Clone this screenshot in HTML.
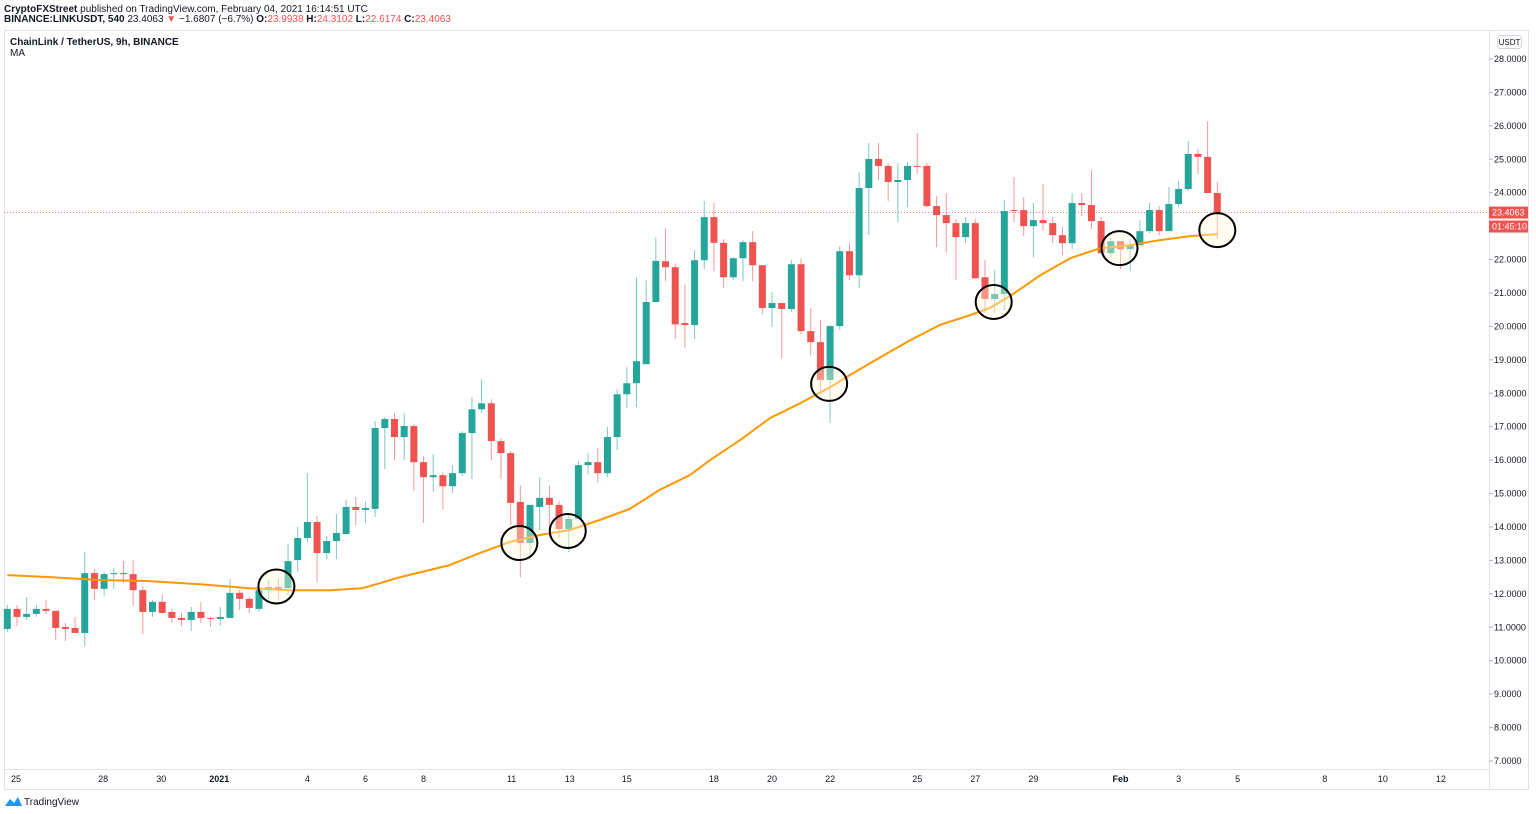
<!DOCTYPE html>
<html><head><meta charset="utf-8"><style>
body{margin:0;background:#fff;width:1536px;height:814px;overflow:hidden;font-family:"Liberation Sans",sans-serif}
svg{position:absolute;left:0;top:0}
</style></head><body>
<svg id="c" width="1536" height="814">
<text x="4" y="12" font-size="10" fill="#131722"><tspan font-weight="bold">CryptoFXStreet</tspan> published on TradingView.com, February 04, 2021 16:14:51 UTC</text>
<text x="4" y="22" font-size="10" fill="#131722" font-weight="bold">BINANCE:LINKUSDT, 540 <tspan font-weight="normal">23.4063</tspan> <tspan fill="#ef5350">▼</tspan> <tspan font-weight="normal">−1.6807 (−6.7%)</tspan> O:<tspan fill="#ef5350" font-weight="normal">23.9938</tspan> H:<tspan fill="#ef5350" font-weight="normal">24.3102</tspan> L:<tspan fill="#ef5350" font-weight="normal">22.6174</tspan> C:<tspan fill="#ef5350" font-weight="normal">23.4063</tspan></text>
<rect x="4.5" y="30.5" width="1524" height="759" fill="none" stroke="#e0e3eb"/>
<line x1="1489.5" y1="30" x2="1489.5" y2="789" stroke="#e0e3eb"/>
<line x1="4" y1="769.5" x2="1489" y2="769.5" stroke="#e0e3eb"/>
<text x="10" y="45" font-size="10" fill="#131722" font-weight="bold">ChainLink / TetherUS, 9h, BINANCE</text>
<text x="10" y="56" font-size="10" fill="#131722">MA</text>
<rect x="1497.5" y="35.5" width="24" height="13" rx="3" fill="#fff" stroke="#d1d4dc"/>
<text x="1509.5" y="45" font-size="8" fill="#131722" text-anchor="middle">USDT</text>
<g id="grid"></g><g id="candles"></g><g id="ma"></g><g id="circles"></g><g id="axes"></g>
<g>
<path d="M5 806 L10 799 L14 803 L18 797 L22 806 Z" fill="#2196f3"/>
<text x="24" y="805" font-size="10" fill="#131722">TradingView</text></g>
</svg>
<script>
const opens=[10.95,11.55,11.31,11.40,11.55,11.49,11.01,10.98,10.83,12.62,12.15,12.59,12.62,12.59,12.11,11.46,11.76,11.46,11.28,11.22,11.46,11.28,11.25,11.28,12.03,11.85,11.55,12.11,12.20,12.17,13.01,13.67,14.15,13.22,13.58,13.79,14.60,14.51,14.54,16.96,17.23,16.69,17.02,15.94,15.49,15.55,15.22,15.61,16.81,17.52,17.70,16.57,16.21,14.75,13.52,14.60,14.87,14.66,13.94,14.24,15.85,15.94,15.61,16.69,17.97,18.30,18.87,20.73,21.95,21.77,20.10,20.04,21.98,23.27,22.50,21.47,22.04,22.52,21.83,20.55,20.70,20.52,21.86,19.86,19.53,18.40,20.01,22.25,21.53,24.14,25.01,24.80,24.32,24.38,24.80,24.80,23.60,23.33,23.09,22.67,23.09,21.47,20.82,20.97,23.48,23.48,23.00,23.18,23.09,22.73,22.49,23.69,23.63,23.15,22.19,22.55,22.31,22.43,22.85,23.48,22.85,23.66,24.11,25.16,25.07,23.99];
const highs=[11.67,11.67,11.91,11.67,11.82,11.49,11.13,11.31,13.25,12.74,12.65,12.77,12.98,13.01,12.23,11.82,11.99,11.55,11.43,11.61,11.76,11.31,11.61,12.44,12.11,11.91,12.35,12.41,12.47,13.49,14.00,15.61,14.33,13.73,14.39,14.81,14.90,14.75,17.17,17.29,17.41,17.41,17.08,16.12,16.18,15.64,15.85,16.87,17.88,18.42,17.82,16.66,16.27,15.25,14.66,15.49,15.25,14.78,14.36,15.97,16.21,16.36,16.99,18.12,18.78,21.45,21.38,22.67,22.94,21.89,21.26,22.28,23.75,23.69,22.61,22.07,22.58,22.85,21.83,21.02,20.70,21.98,22.04,20.55,20.19,20.04,22.40,22.49,24.62,25.49,25.49,24.89,24.89,24.92,25.79,24.89,23.90,23.99,23.21,23.27,23.21,21.98,21.68,23.78,24.47,23.87,23.69,24.26,23.27,22.97,23.99,23.99,24.68,23.27,22.64,22.55,22.64,23.18,23.69,23.60,24.17,24.35,25.55,25.31,26.14,24.32];
const lows=[10.86,11.04,11.22,11.31,11.40,10.62,10.59,10.83,10.44,11.82,11.94,12.15,12.32,11.64,10.80,11.31,11.40,11.13,11.04,10.89,11.13,11.01,11.04,11.28,11.52,11.43,11.46,11.76,11.82,11.94,12.65,13.55,12.35,13.04,13.04,13.79,14.06,14.12,14.30,15.73,16.00,16.00,15.07,14.12,15.05,14.54,15.02,15.52,15.43,17.41,16.00,15.43,14.06,12.50,13.16,13.91,13.70,13.67,13.25,14.24,15.58,15.32,15.49,16.30,17.55,17.58,18.87,20.73,21.35,19.62,19.35,19.62,21.71,21.65,21.14,21.38,21.35,21.35,20.37,19.98,19.04,20.43,19.77,19.13,18.04,17.11,19.89,21.38,21.14,22.73,24.38,23.75,23.12,23.57,24.56,23.57,22.37,22.22,21.38,22.49,21.44,20.40,20.40,20.49,23.12,22.70,22.06,22.85,22.49,22.13,22.31,23.30,22.91,22.19,22.07,21.71,21.65,22.43,22.79,22.73,22.85,23.57,24.05,24.56,24.02,22.61];
const closes=[11.55,11.31,11.40,11.55,11.49,10.98,10.95,10.83,12.62,12.15,12.59,12.62,12.59,12.11,11.46,11.76,11.43,11.28,11.22,11.46,11.28,11.25,11.31,12.03,11.85,11.58,12.11,12.20,12.15,12.98,13.67,14.15,13.22,13.58,13.82,14.60,14.51,14.57,16.96,17.23,16.69,17.02,15.94,15.49,15.55,15.22,15.61,16.81,17.52,17.70,16.57,16.21,14.72,13.52,14.66,14.87,14.66,13.94,14.24,15.85,15.94,15.61,16.69,17.97,18.30,18.96,20.73,21.96,21.77,20.06,20.04,21.98,23.27,22.50,21.47,22.04,22.52,21.83,20.55,20.70,20.52,21.86,19.86,19.53,18.40,20.01,22.25,21.53,24.14,25.01,24.80,24.32,24.38,24.80,24.77,23.60,23.33,23.09,22.67,23.09,21.44,20.82,20.97,23.45,23.45,23.00,23.18,23.09,22.73,22.49,23.69,23.63,23.15,22.19,22.55,22.31,22.43,22.85,23.48,22.85,23.66,24.11,25.16,25.07,23.99,23.41];
const maIdx=[0,4.4,9.6,14.7,19.9,25,29.2,33.3,36.7,40.6,45.7,48.8,51.9,55,58.1,61.2,64.3,67.4,70.5,72.6,75.7,78.8,81.9,85,87,90.2,93.3,96.3,99.5,101.5,103.6,106.7,109.8,112.9,116,119,122.2,125];
const maVals=[12.56,12.50,12.41,12.38,12.29,12.17,12.11,12.11,12.17,12.50,12.86,13.22,13.55,13.76,13.91,14.21,14.54,15.11,15.55,16.00,16.60,17.26,17.70,18.18,18.54,19.08,19.59,20.04,20.34,20.55,20.91,21.53,22.04,22.34,22.43,22.58,22.70,22.76];
const priceTicks=[7,8,9,10,11,12,13,14,15,16,17,18,19,20,21,22,23,24,25,26,27,28];
const timeLabels=["25","28","30","2021","4","6","8","11","13","15","18","20","22","25","27","29","Feb","3","5","8","10","12"];
const timeIdx=[0.9,9.9,15.9,21.9,31,37,43,52.1,58.1,64,73,79,85,94,100,106,115,121,127.1,136.1,142.1,148.1];
const circleIdx=[27.8,52.9,57.9,84.9,101.9,114.9,125];
const circlePrice=[12.22,13.52,13.88,18.28,20.73,22.34,22.88];
const lastPrice=23.4063;

const NS="http://www.w3.org/2000/svg";
const x=i=>7.3+i*9.68;
const y=p=>761-(p-7)*33.43;
function mk(tag,attrs,parent){const e=document.createElementNS(NS,tag);for(const k in attrs)e.setAttribute(k,attrs[k]);document.getElementById(parent).appendChild(e);return e;}
priceTicks.forEach(p=>{
  const l=mk('line',{x1:1489,x2:1493,y1:y(p),y2:y(p),stroke:'#b2b5be'},'axes');
  
  
  const t=mk('text',{x:1494,y:y(p)+3,'font-size':9,fill:'#131722'},'axes');
  t.textContent=p.toFixed(4);
  
  
});
timeLabels.forEach((s,k)=>{
  const t=mk('text',{x:x(timeIdx[k]),y:782,'font-size':9,fill:'#131722','text-anchor':'middle','font-weight':s==='2021'||s==='Feb'?'bold':'normal'},'axes');
  t.textContent=s;
  
  
});
const pl=mk('line',{x1:4,x2:1489,y1:y(lastPrice),y2:y(lastPrice),stroke:'#ef5350','stroke-dasharray':'1,2','stroke-width':0.8},'grid');


opens.forEach((o,i)=>{
  const c=closes[i],up=c>=o,col=up?'#26a69a':'#ef5350',cx=x(i);
  const w=mk('line',{x1:cx,x2:cx,y1:y(highs[i]),y2:y(lows[i]),stroke:col,'stroke-opacity':0.6,'stroke-width':1},'candles');
  
  
  const top=y(Math.max(o,c)),bot=y(Math.min(o,c));
  const b=mk('rect',{x:cx-3.5,y:top,width:7,height:Math.max(1,bot-top),fill:col},'candles');
  
  
});
const d=maIdx.map((v,k)=>(k?'L':'M')+x(v).toFixed(1)+' '+y(maVals[k]).toFixed(1)).join(' ');
const ma=mk('path',{d:d,fill:'none',stroke:'#ff9800','stroke-width':2,'stroke-linejoin':'round'},'ma');


circleIdx.forEach((v,k)=>{
  const c=mk('ellipse',{cx:x(v),cy:y(circlePrice[k]),rx:18,ry:17,fill:'rgba(255,250,220,0.4)',stroke:'#000','stroke-width':2},'circles');
  
  
});
const lb=mk('rect',{x:1489,y:y(lastPrice)-6,width:39,height:12,fill:'#ef5350'},'axes');


const lt=mk('text',{x:1492,y:y(lastPrice)+3,'font-size':9,fill:'#fff'},'axes');
lt.textContent=lastPrice.toFixed(4);


const cb=mk('rect',{x:1489,y:y(lastPrice)+8,width:39,height:12,fill:'#ef5350'},'axes');


const ct=mk('text',{x:1492,y:y(lastPrice)+17,'font-size':9,fill:'#fff'},'axes');
ct.textContent='01:45:10';


</script>
</body></html>
